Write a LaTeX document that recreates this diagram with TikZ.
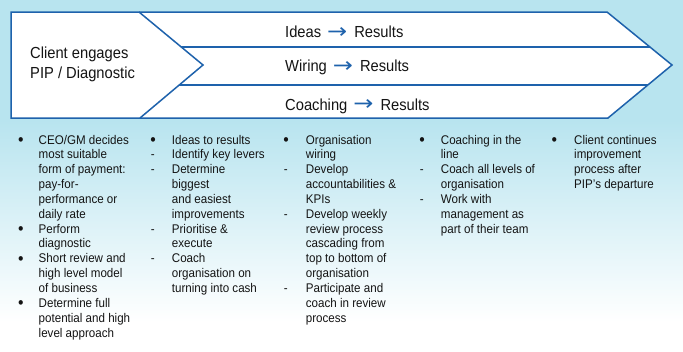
\documentclass[tikz,border=0pt]{standalone}
\usepackage{fontspec}
\usepackage{graphicx}
\setmainfont{Liberation Sans}[FakeStretch=0.92]
\newfontfamily\arrowfont{DejaVu Sans}

\definecolor{skyblue}{RGB}{184,228,239}
\definecolor{pipblue}{RGB}{30,98,172}
\definecolor{inkgray}{RGB}{20,20,20}

% blue arrow between a stream and its results
\newcommand{\toresults}{\hspace{6pt}{\arrowfont\color{pipblue}\raisebox{-0.5pt}{\scalebox{1.5}[1.3]{→}}}\hspace{7pt}}
% list markers
\newcommand{\blt}{\hspace{-0.6pt}\raisebox{-1.2pt}{\scalebox{1.35}{\textbullet}}}

\begin{document}
\begin{tikzpicture}[x=1pt,y=-1pt,line join=miter]

	\tikzset{outline/.style={draw=pipblue,line width=1.5pt},
		bandtext/.style={anchor=base west,inner sep=0pt,text=inkgray,font=\fontsize{16}{20}\selectfont},
		listcol/.style={anchor=base west,inner sep=0pt,text=inkgray,font=\fontsize{12.6}{14.85}\selectfont}}

	% background fading out to white
	\fill[skyblue] (0,0) rectangle (683,351);
	\shade[top color=skyblue,bottom color=white] (0,120) rectangle (683,322);
	\fill[white] (0,321) rectangle (683,351);
	\useasboundingbox (0,0) rectangle (683,351);

	% chevron with the three streams
	\filldraw[outline,fill=white] (11,12)--(607,12)--(672,65)--(608,118)--(11,118)--cycle;
	\draw[outline] (139,12)--(203,65)--(140,118);
	\draw[outline] (181.3,47)--(649.9,47);
	\draw[outline] (179.2,85)--(647.8,85);

	\node[bandtext] (client) at (30,58.5) {\begin{tabular}[t]{@{}l@{}}Client engages\\PIP / Diagnostic\end{tabular}};
	\node[bandtext] (ideas) at (285,37.5) {Ideas\toresults Results};
	\node[bandtext] (wiring) at (285,71.5) {Wiring\toresults Results};
	\node[bandtext] (coaching) at (285,110) {Coaching\toresults Results};

	% what happens in each phase
	\node[listcol] (diag) at (18.5,144) {\begin{tabular}[t]{@{}p{20pt}@{}l@{}}
		\blt & CEO/GM decides\\
		& most suitable\\
		& form of payment:\\
		& pay-for-\\
		& performance or\\
		& daily rate\\
		\blt & Perform\\
		& diagnostic\\
		\blt & Short review and\\
		& high level model\\
		& of business\\
		\blt & Determine full\\
		& potential and high\\
		& level approach
	\end{tabular}};
	\node[listcol] (ideascol) at (150.7,144) {\begin{tabular}[t]{@{}p{21pt}@{}l@{}}
		\blt & Ideas to results\\
		- & Identify key levers\\
		- & Determine\\
		& biggest\\
		& and easiest\\
		& improvements\\
		- & Prioritise \&\\
		& execute\\
		- & Coach\\
		& organisation on\\
		& turning into cash
	\end{tabular}};
	\node[listcol] (wiringcol) at (283.7,144) {\begin{tabular}[t]{@{}p{22pt}@{}l@{}}
		\blt & Organisation\\
		& wiring\\
		- & Develop\\
		& accountabilities \&\\
		& KPIs\\
		- & Develop weekly\\
		& review process\\
		& cascading from\\
		& top to bottom of\\
		& organisation\\
		- & Participate and\\
		& coach in review\\
		& process
	\end{tabular}};
	\node[listcol] (coachcol) at (419.7,144) {\begin{tabular}[t]{@{}p{21pt}@{}l@{}}
		\blt & Coaching in the\\
		& line\\
		- & Coach all levels of\\
		& organisation\\
		- & Work with\\
		& management as\\
		& part of their team
	\end{tabular}};
	\node[listcol] (after) at (552,144) {\begin{tabular}[t]{@{}p{22pt}@{}l@{}}
		\blt & Client continues\\
		& improvement\\
		& process after\\
		& PIP’s departure
	\end{tabular}};
\end{tikzpicture}
\end{document}
